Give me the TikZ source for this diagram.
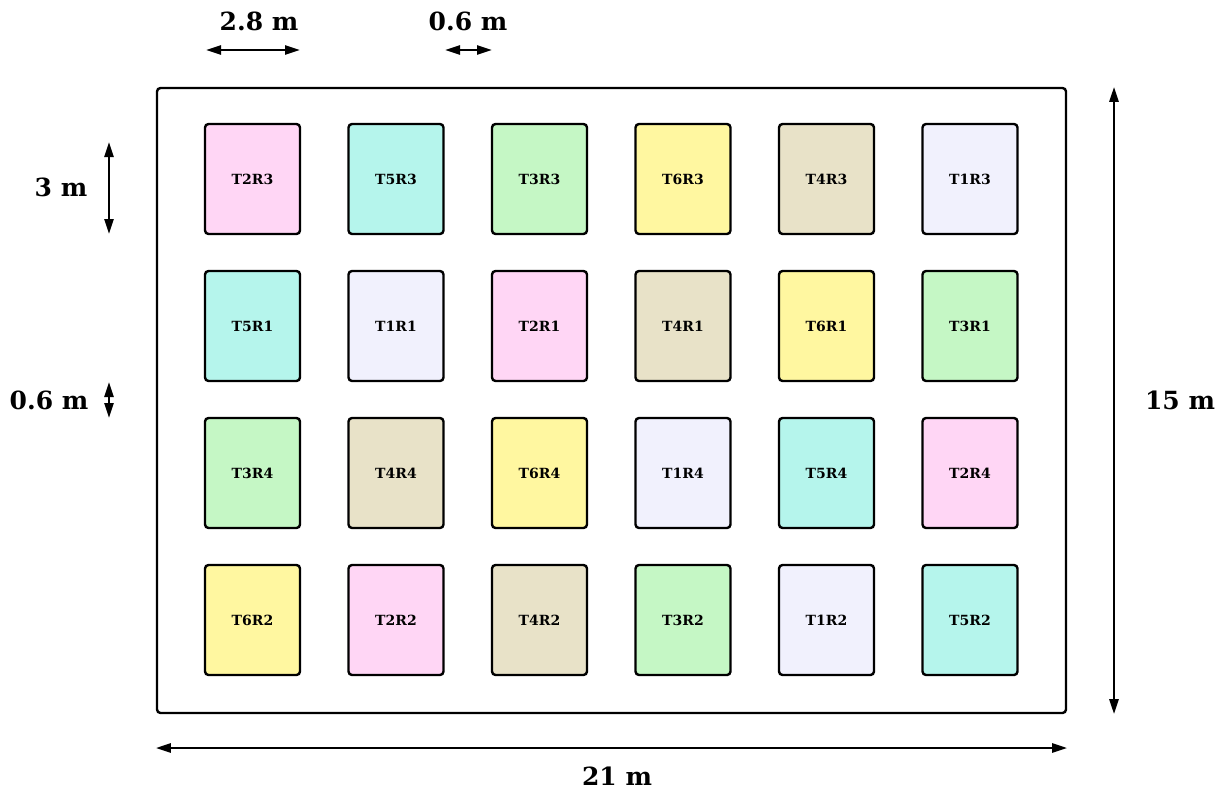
\documentclass[tikz,border=0pt]{standalone}
\usepackage{fontspec}
\setmainfont{DejaVu Serif}
\usetikzlibrary{arrows.meta}
\definecolor{cA}{RGB}{241,241,253}
\definecolor{cB}{RGB}{255,214,245}
\definecolor{cC}{RGB}{197,247,197}
\definecolor{cD}{RGB}{232,226,200}
\definecolor{cE}{RGB}{181,245,236}
\definecolor{cF}{RGB}{255,247,160}
\tikzset{
  plot/.style={draw=black, line width=2.4pt, rounded corners=3.5pt, minimum width=95pt, minimum height=110pt, inner sep=0pt, font=\fontsize{14}{16}\selectfont\bfseries},
  dim/.style={line width=2.6pt, {Stealth[length=15pt,width=9pt,inset=0pt]}-{Stealth[length=15pt,width=9pt,inset=0pt]}},
  dimlab/.style={font=\fontsize{25}{28}\selectfont\bfseries, inner sep=0pt},
}
\begin{document}
\begin{tikzpicture}[x=1pt,y=-1pt]
\useasboundingbox (0,0) rectangle (1228,789);
\node[draw=black, line width=2.4pt, rounded corners=3.5pt, minimum width=909pt, minimum height=625pt, inner sep=0pt] (field) at (611.5,400.5) {};
\foreach \r [count=\j from 0] in {{B/T2R3,E/T5R3,C/T3R3,F/T6R3,D/T4R3,A/T1R3},{E/T5R1,A/T1R1,B/T2R1,D/T4R1,F/T6R1,C/T3R1},{C/T3R4,D/T4R4,F/T6R4,A/T1R4,E/T5R4,B/T2R4},{F/T6R2,B/T2R2,D/T4R2,C/T3R2,A/T1R2,E/T5R2}}{
  \foreach \c/\t [count=\i from 0] in \r {
    \node[plot, fill=c\c] (\t) at ({252.5+143.5*\i},{179+147*\j}) {\t};
  }
}
% dimension arrows
\coordinate (a1) at (206,50); \coordinate (a2) at (300,50);
\draw[dim] (a1) -- (a2);
\node[dimlab] (l1) at (259,21) {2.8 m};
\coordinate (b1) at (445,50); \coordinate (b2) at (492,50);
\draw[dim] (b1) -- (b2);
\node[dimlab] (l2) at (468,21) {0.6 m};
\coordinate (c1) at (109,142); \coordinate (c2) at (109,234);
\draw[dim] (c1) -- (c2);
\node[dimlab] (l3) at (61,187) {3 m};
\coordinate (d1) at (109,382); \coordinate (d2) at (109,418);
\draw[dim] (d1) -- (d2);
\node[dimlab] (l4) at (49,400) {0.6 m};
\draw[dim] (field.north east -| 1114,0) -- (field.south east -| 1114,0);
\node[dimlab] (l5) at (1180,400) {15 m};
\draw[dim] (field.south west |- 0,748) -- (field.south east |- 0,748);
\node[dimlab] (l6) at (617,776) {21 m};
\end{tikzpicture}
\end{document}
